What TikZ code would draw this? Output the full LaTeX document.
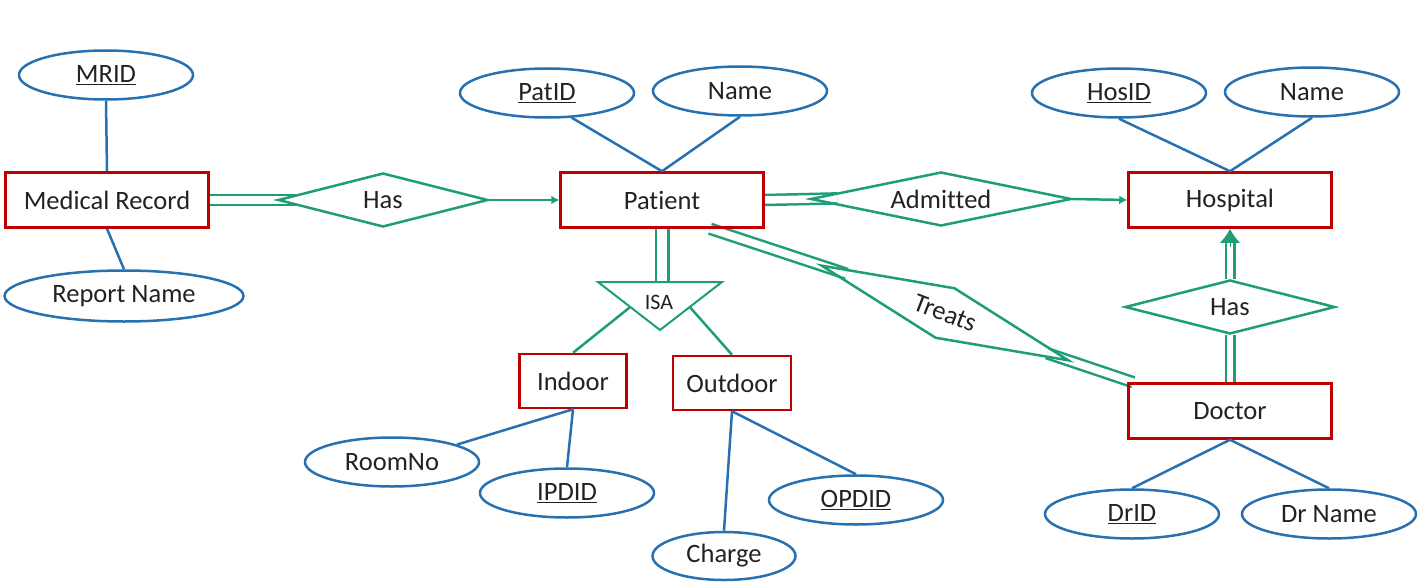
\documentclass[tikz,border=0pt]{standalone}
\usepackage{fontspec}
\setmainfont{Carlito}[Ligatures=NoCommon]
\usetikzlibrary{shapes.geometric, arrows, arrows.meta, positioning}
\usetikzlibrary{calc, backgrounds}

\definecolor{erred}{RGB}{192,0,0}
\definecolor{erblue}{RGB}{40,113,176}
\definecolor{ergreen}{RGB}{30,157,119}
\definecolor{ertext}{RGB}{34,34,34}

\begin{document}
\begin{tikzpicture}[
      x=1pt,
      y=-1pt,
      font=\fontsize{26.5}{31}\selectfont,
      text=ertext,
      entity/.style={
          rectangle,
          draw=erred,
          line width=2.5pt,
          minimum width=203pt,
          minimum height=55pt,
          inner sep=0pt
        },
      attr/.style={
          ellipse,
          draw=erblue,
          line width=2.5pt,
          minimum width=174pt,
          minimum height=49pt,
          inner sep=0pt
        },
      rel/.style={
          diamond,
          draw=ergreen,
          line width=2.5pt,
          aspect=4,
          minimum height=54pt,
          inner sep=0pt
        },
      attrline/.style={
          draw=erblue,
          line width=2.5pt
        },
      relline/.style={
          draw=ergreen,
          line width=2.5pt
        },
      dbl/.style={
          draw=ergreen,
          line width=2.5pt,
          double=white,
          double distance=7.5pt
        },
      arrow/.style={
          -{Latex[length=8pt,width=9pt]},
          draw=ergreen,
          line width=2.5pt
        }
    ]
    \useasboundingbox (0,0) rectangle (1425,586);

    % Entities
    \node[entity] (med_record) at (107,200) {Medical Record};
    \node[entity] (patient) at (662,200) {Patient};
    \node[entity] (hospital) at (1230,200) {Hospital};
    \node[entity] (doctor) at (1230,411) {Doctor};
    \node[entity, minimum width=107pt, minimum height=54pt] (indoor) at (573,381) {Indoor};
    \node[entity, minimum width=118pt, minimum height=54pt] (outdoor) at (732,383) {Outdoor};

    % Attributes
    \node[attr] (mr_id) at (106,75) {\underline{MRID}};
    \node[attr, minimum width=239pt, minimum height=51pt] (report_name) at (124,296) {Report Name};
    \node[attr] (pat_id) at (547,93) {\underline{PatID}};
    \node[attr] (pat_name) at (740,91) {Name};
    \node[attr] (hos_id) at (1119,93) {\underline{HosID}};
    \node[attr] (hos_name) at (1312,92) {Name};
    \node[attr] (dr_id) at (1132,514) {\underline{DrID}};
    \node[attr] (dr_name) at (1329,514) {Dr Name};
    \node[attr] (room_no) at (392,462) {RoomNo};
    \node[attr] (ipd_id) at (567,493) {\underline{IPDID}};
    \node[attr] (opd_id) at (856,500) {\underline{OPDID}};
    \node[attr, minimum width=143pt, minimum height=48pt] (charge) at (724,556) {Charge};

    % Relationships
    \node[rel, minimum width=210pt] (has_record) at (383,200) {Has};
    \node[rel, minimum width=261pt] (admitted) at (941,199) {Admitted};
    \node[rel, minimum width=210pt] (has_doctor) at (1230,307) {Has};
    \node[rel, minimum width=265pt, rotate=-21] (treats) at (945,313) {Treats};

    % ISA
    \coordinate (isa_tl) at (598,282);
    \coordinate (isa_tr) at (722,282);
    \coordinate (isa_bot) at (660,330);
    \draw[relline, line width=2pt] (isa_tl) -- (isa_tr) -- (isa_bot) -- cycle;
    \node[font=\fontsize{22}{24}\selectfont] (isa) at (659,302) {ISA};

    % Arrows
    \begin{scope}[on background layer]
      \draw[dbl, shorten >=-19pt] (med_record.east) -- (has_record.west);
      \draw[dbl, shorten >=-28pt] (patient.east) -- (admitted.west);
      \draw[dbl, double distance=10pt] (patient.south) -- (patient.south |- isa_tl);
      \draw[dbl, shorten >=-28pt] ([xshift=48pt]patient.south) -- (treats.west);
      \draw[dbl, shorten <=-24pt] (treats.east) -- ([xshift=6pt]doctor.north west);
      \draw[dbl, double distance=6pt] (doctor.north) -- (has_doctor.south);
      \draw[dbl, double distance=6pt] (has_doctor.north) -- ([yshift=-14pt]hospital.south);
    \end{scope}
    \draw[arrow] (has_record.east) -- (patient.west);
    \draw[arrow] (admitted.east) -- (hospital.west);
    \draw[-{Latex[length=14pt,width=20pt]}, ergreen, line width=1pt] ([yshift=-18pt]hospital.south) -- (hospital.south);

    % ISA links
    \draw[relline] ($(isa_tl)!0.52!(isa_bot)$) -- (indoor.north);
    \draw[relline] ($(isa_tr)!0.52!(isa_bot)$) -- (outdoor.north);

    % Attribute links
    \draw[attrline] (mr_id.south) -- (med_record.north);
    \draw[attrline] (med_record.south) -- (report_name.north);
    \draw[attrline] (pat_id.-45) -- (patient.north);
    \draw[attrline] (pat_name.south) -- (patient.north);
    \draw[attrline] (hos_id.south) -- (hospital.north);
    \draw[attrline] (hos_name.south) -- (hospital.north);
    \draw[attrline] (doctor.south) -- (dr_id.north);
    \draw[attrline] (doctor.south) -- (dr_name.north);
    \draw[attrline] (indoor.south) -- (room_no.15);
    \draw[attrline] (indoor.south) -- (ipd_id.north);
    \draw[attrline] (outdoor.south) -- (charge.north);
    \draw[attrline] (outdoor.south) -- (opd_id.north);
  \end{tikzpicture}
\end{document}
